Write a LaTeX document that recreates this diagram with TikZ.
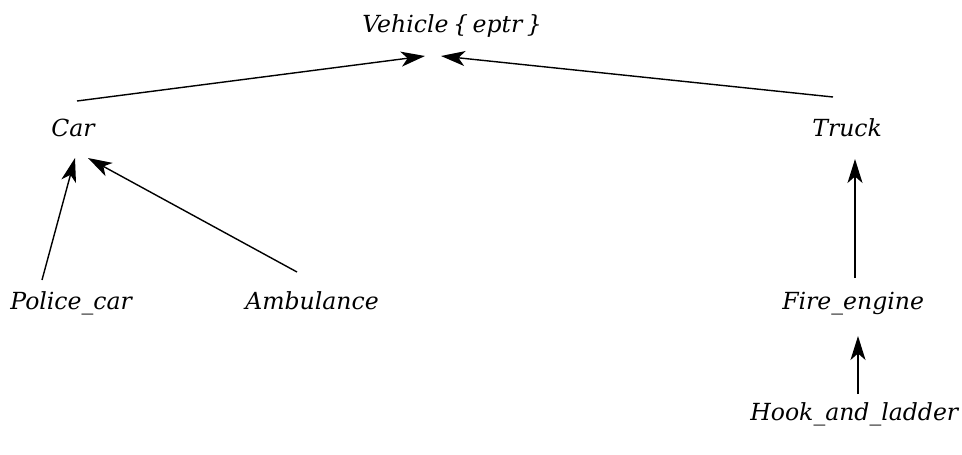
\documentclass[tikz,border=0pt]{standalone}
\usepackage{fontspec}
\newfontfamily\classfont{DejaVu Serif}
\usetikzlibrary{arrows.meta}

\begin{document}
\begin{tikzpicture}[x=0.02cm, y=-0.02cm,
    every node/.style={anchor=base west, inner sep=0pt,
        font=\classfont\itshape\fontsize{13.4}{16}\selectfont},
    isa/.style={-{Stealth[length=4.8mm, width=3mm, inset=1.3mm]}, line width=0.8pt}]
    \useasboundingbox (0,0) rectangle (962,454);
    % classes
    \node (vehicle) at (362,32) {Vehicle\hspace{2.6pt}\{\hspace{2.6pt}eptr\hspace{2.6pt}\}};
    \node (car) at (51,136) {Car};
    \node (truck) at (812,136) {Truck};
    \node (police) at (10,309) {Police\_car};
    \node (ambulance) at (245,309) {Ambulance};
    \node (fire) at (782,309) {Fire\_engine};
    \node (hook) at (750,420) {Hook\_and\_ladder};
    % inheritance arrows
    \draw[isa] ([shift={(26,-35)}]car.base west) -- ([shift={(63,24)}]vehicle.base west);
    \draw[isa] ([shift={(21,-39)}]truck.base west) -- ([shift={(79,24)}]vehicle.base west);
    \draw[isa] ([shift={(32,-29)}]police.base west) -- ([shift={(24,22)}]car.base west);
    \draw[isa] ([shift={(52,-37)}]ambulance.base west) -- ([shift={(37,22)}]car.base west);
    \draw[isa] ([shift={(73,-31)}]fire.base west) -- ([shift={(43,23)}]truck.base west);
    \draw[isa] ([shift={(108,-26)}]hook.base west) -- ([shift={(76,27)}]fire.base west);
\end{tikzpicture}
\end{document}
